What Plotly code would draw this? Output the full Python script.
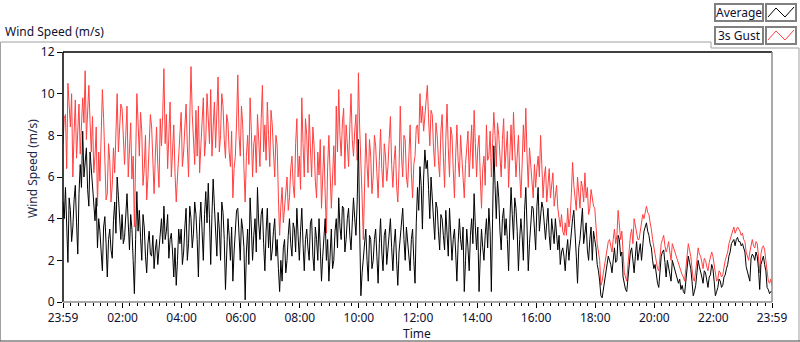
import pandas as pd
import plotly.graph_objects as go

# ---- data (2.5-minute samples, 23:59 -> 23:59), one row per hour ----
start_time = "2024-01-01 23:59"
sample_step = "150s"

gust = [
    7.6, 8.8, 9.0, 6.4, 10.5, 9.2, 8.4, 10.0, 6.0, 8.1, 9.7, 6.9, 8.0, 9.5, 7.1, 8.2, 9.8, 8.6, 11.1, 7.8, 9.6, 10.4, 8.6, 7.2,
    8.9, 6.2, 7.0, 8.4, 4.6, 7.2, 5.8, 8.0, 10.2, 8.8, 6.8, 4.9, 5.2, 7.6, 6.8, 4.8, 5.6, 7.4, 6.2, 8.6, 10.0, 7.2, 8.1, 9.5,
    9.3, 7.8, 6.6, 8.0, 9.4, 6.0, 7.4, 8.6, 5.9, 7.0, 3.6, 6.5, 10.0, 8.6, 7.0, 9.1, 8.2, 5.6, 6.4, 8.0, 4.9, 6.0, 7.2, 9.0,
    8.4, 6.8, 5.2, 7.0, 8.4, 6.6, 5.5, 8.8, 7.5, 9.0, 11.2, 7.6, 9.0, 6.4, 8.6, 9.6, 6.0, 7.4, 8.5, 6.2, 4.8, 6.0, 7.1, 8.3,
    9.1, 6.5, 7.2, 8.4, 9.5, 7.5, 6.0, 8.8, 11.3, 9.0, 8.0, 6.6, 9.2, 7.0, 9.4, 6.2, 7.5, 8.7, 9.8, 7.0, 7.8, 10.0, 9.0, 7.6,
    10.2, 7.0, 8.4, 9.6, 7.4, 9.0, 10.8, 7.2, 8.0, 10.0, 9.4, 7.8, 6.9, 9.0, 8.6, 7.2, 6.5, 8.2, 5.0, 6.4, 7.0, 8.6, 10.9, 8.0,
    7.0, 9.4, 8.5, 6.4, 4.8, 7.0, 8.0, 6.6, 9.8, 8.2, 6.0, 7.6, 8.0, 6.2, 9.0, 7.8, 6.5, 8.8, 10.4, 7.2, 8.5, 6.8, 9.6, 8.0,
    6.5, 9.2, 8.5, 7.2, 6.0, 8.0, 7.5, 5.0, 3.2, 4.6, 5.5, 3.8, 4.5, 5.6, 6.0, 4.4, 5.0, 6.4, 7.0, 5.6, 5.0, 7.6, 8.8, 6.0,
    7.0, 5.4, 9.8, 7.6, 6.0, 8.8, 8.0, 6.2, 9.0, 7.4, 6.0, 8.4, 7.5, 5.8, 5.0, 7.2, 6.1, 7.8, 4.5, 6.0, 7.5, 5.2, 3.3, 6.5,
    8.0, 6.2, 4.5, 6.0, 7.5, 5.6, 9.4, 7.2, 10.2, 8.0, 7.0, 8.6, 9.3, 6.4, 8.5, 7.6, 6.5, 8.4, 10.0, 7.8, 7.0, 8.2, 9.0, 6.8,
    11.0, 8.4, 7.0, 5.0, 3.0, 6.0, 8.1, 6.6, 5.5, 7.8, 7.0, 5.2, 6.0, 8.0, 7.5, 6.2, 5.0, 6.8, 8.3, 6.4, 5.5, 7.6, 7.0, 5.8,
    6.5, 7.8, 8.9, 6.6, 5.5, 6.8, 7.5, 5.6, 4.8, 6.4, 9.4, 7.0, 6.0, 8.0, 7.8, 6.0, 5.5, 7.0, 8.5, 6.2, 5.0, 6.6, 7.0, 8.4,
    8.5, 7.6, 10.0, 8.6, 9.4, 8.2, 9.0, 9.8, 10.4, 8.8, 7.5, 9.2, 9.0, 7.4, 6.5, 8.6, 8.0, 6.8, 6.0, 8.2, 9.0, 7.0, 5.5, 7.8,
    9.5, 7.4, 6.0, 8.4, 8.0, 6.4, 5.0, 7.0, 8.5, 6.8, 6.0, 8.0, 7.0, 5.8, 5.0, 6.6, 7.5, 8.2, 6.0, 7.0, 8.5, 6.4, 9.2, 7.6,
    6.0, 7.4, 8.0, 6.0, 4.5, 6.4, 7.0, 5.6, 8.5, 6.8, 7.0, 8.2, 6.0, 7.6, 9.1, 8.0, 6.5, 8.6, 8.0, 7.0, 6.0, 7.8, 8.8, 6.4,
    7.5, 8.2, 5.5, 7.0, 8.5, 6.8, 9.1, 7.4, 6.0, 7.0, 8.0, 6.2, 5.0, 6.6, 8.5, 7.2, 9.3, 7.0, 5.5, 7.4, 6.5, 5.8, 5.0, 6.6,
    5.5, 6.4, 7.0, 6.0, 8.0, 6.6, 5.0, 6.0, 6.5, 4.8, 5.6, 6.4, 5.0, 5.6, 6.2, 4.6, 5.0, 5.6, 4.5, 4.0, 3.6, 4.2, 3.4, 3.2,
    3.8, 3.2, 4.5, 3.6, 4.0, 5.2, 6.7, 5.6, 5.0, 4.4, 6.0, 5.0, 4.5, 5.8, 5.5, 4.8, 6.2, 5.0, 5.5, 4.2, 4.5, 5.4, 5.0, 4.6,
    4.5, 3.6, 2.8, 2.4, 2.0, 0.8, 1.0, 1.4, 1.8, 2.2, 2.6, 2.9, 3.0, 2.6, 2.4, 3.0, 3.5, 2.8, 3.2, 4.4, 3.8, 3.0, 3.4, 2.0,
    1.4, 1.2, 1.0, 1.8, 2.8, 3.2, 3.5, 2.8, 4.0, 3.6, 3.4, 3.0, 3.0, 3.4, 3.8, 4.2, 4.0, 4.4, 4.6, 4.3, 4.2, 3.8, 3.5, 3.0,
    2.6, 2.3, 2.0, 1.6, 1.5, 2.2, 2.8, 3.0, 3.2, 2.7, 2.4, 2.6, 2.9, 2.4, 2.0, 2.8, 2.6, 2.4, 2.2, 2.0, 1.8, 1.7, 1.5, 1.3,
    1.2, 1.0, 1.6, 2.2, 2.8, 2.5, 2.2, 1.6, 1.1, 1.0, 1.4, 2.0, 2.6, 2.3, 2.2, 1.8, 1.6, 2.1, 2.0, 1.7, 1.5, 1.9, 2.1, 2.4,
    2.2, 1.8, 1.4, 1.0, 1.1, 1.5, 1.4, 1.2, 1.3, 1.7, 2.0, 2.2, 2.4, 2.8, 3.0, 3.3, 3.5, 3.6, 3.3, 3.5, 3.6, 3.5, 3.4, 3.2,
    3.3, 3.0, 2.9, 2.4, 2.2, 2.0, 2.4, 2.8, 3.0, 2.7, 2.6, 2.9, 2.8, 2.2, 1.4, 2.3, 2.6, 2.7, 2.5, 2.0, 1.5, 1.0, 0.9, 1.1,
    0.8,
]

average = [
    4.8, 4.0, 5.5, 3.2, 1.9, 5.0, 4.4, 2.9, 3.6, 4.9, 5.6, 3.8, 2.3, 5.2, 6.6, 5.5, 8.2, 6.0, 6.9, 7.4, 5.4, 4.6, 7.2, 6.3,
    5.4, 4.4, 3.9, 5.0, 2.6, 4.0, 3.4, 2.4, 1.5, 3.6, 4.1, 2.8, 1.2, 3.0, 3.5, 2.5, 2.1, 3.9, 4.8, 3.3, 6.0, 5.1, 4.0, 3.0,
    4.2, 2.8, 3.1, 4.4, 5.2, 3.8, 2.5, 4.2, 3.5, 2.0, 0.4, 3.0, 5.3, 3.4, 4.4, 3.1, 2.0, 4.2, 3.6, 2.2, 1.4, 2.8, 3.4, 2.3,
    2.2, 3.2, 1.6, 2.5, 3.0, 1.8, 2.6, 3.4, 4.0, 2.8, 4.6, 3.0, 3.4, 4.2, 2.1, 3.0, 3.3, 2.4, 1.2, 2.6, 0.8, 2.0, 3.5, 2.8,
    3.5, 1.8, 2.4, 3.6, 4.5, 2.0, 2.8, 4.6, 4.0, 2.6, 3.3, 4.8, 4.2, 3.0, 1.2, 3.8, 4.8, 3.4, 2.0, 4.2, 5.3, 3.8, 5.7, 4.0,
    1.8, 4.2, 5.9, 4.6, 3.0, 2.2, 4.3, 3.5, 2.0, 4.8, 4.3, 3.0, 0.6, 2.6, 4.0, 3.2, 2.0, 3.6, 1.0, 2.4, 3.3, 4.4, 4.5, 3.4,
    2.0, 4.0, 3.5, 2.6, 0.1, 2.4, 3.5, 1.8, 5.0, 3.6, 2.0, 3.2, 4.0, 2.4, 5.5, 3.8, 3.0, 4.2, 4.5, 2.8, 1.5, 3.4, 4.5, 2.6,
    3.8, 2.0, 2.5, 3.4, 4.0, 2.2, 3.0, 1.6, 0.5, 2.0, 1.0, 2.6, 3.0, 1.4, 2.0, 3.2, 4.0, 2.8, 2.2, 3.8, 3.5, 2.4, 4.5, 3.2,
    2.0, 3.4, 4.5, 2.8, 1.5, 3.0, 3.5, 2.6, 2.0, 3.8, 4.0, 2.2, 1.5, 3.6, 3.0, 2.0, 4.0, 2.6, 1.0, 2.2, 3.0, 4.0, 2.0, 3.0,
    1.0, 2.6, 3.5, 1.6, 2.0, 3.4, 4.0, 2.6, 5.0, 3.6, 3.0, 4.6, 4.5, 2.4, 3.0, 4.0, 4.5, 3.2, 2.5, 3.8, 5.0, 4.0, 3.2, 4.8,
    7.8, 3.6, 0.3, 1.4, 2.0, 2.8, 3.5, 2.0, 1.0, 3.2, 3.0, 1.6, 2.0, 3.0, 3.5, 2.2, 0.9, 2.8, 4.0, 2.4, 1.5, 3.2, 3.5, 1.8,
    2.5, 3.4, 4.0, 2.6, 1.5, 2.8, 3.5, 2.0, 0.8, 2.4, 3.0, 3.8, 4.5, 3.0, 2.0, 3.6, 3.0, 2.2, 1.5, 3.0, 3.5, 2.0, 0.9, 3.8,
    5.5, 4.4, 6.5, 5.6, 3.5, 6.0, 7.3, 6.4, 6.8, 5.4, 4.0, 6.0, 5.0, 3.6, 3.0, 4.8, 4.5, 3.4, 2.5, 4.2, 4.0, 3.2, 2.5, 4.4,
    3.0, 2.2, 4.5, 3.4, 2.0, 3.0, 3.5, 2.4, 1.0, 2.8, 4.0, 3.0, 2.5, 3.6, 0.5, 2.0, 3.5, 2.6, 1.5, 3.2, 4.0, 2.8, 5.2, 3.6,
    2.5, 3.6, 0.5, 2.2, 3.5, 2.6, 2.0, 3.2, 4.0, 2.6, 4.5, 3.4, 0.5, 4.0, 7.5, 5.6, 4.0, 5.8, 5.0, 3.4, 2.5, 4.0, 4.5, 3.2,
    4.0, 3.0, 1.5, 3.8, 5.5, 4.2, 3.0, 5.0, 4.5, 3.4, 1.5, 3.0, 4.0, 3.2, 2.0, 4.4, 5.5, 3.6, 1.5, 2.8, 3.5, 4.6, 4.5, 3.2,
    2.5, 4.6, 5.5, 3.4, 4.0, 4.8, 4.5, 3.6, 3.0, 3.8, 4.5, 3.2, 2.5, 4.0, 3.5, 2.8, 4.0, 3.0, 2.5, 3.2, 1.8, 2.4, 2.6, 2.2,
    1.5, 2.4, 3.0, 2.0, 2.8, 3.6, 4.0, 4.4, 3.5, 2.2, 0.9, 2.6, 3.0, 3.8, 4.5, 2.8, 3.5, 3.8, 2.5, 2.0, 3.0, 3.6, 2.0, 3.4,
    3.0, 2.6, 1.8, 1.5, 1.0, 0.3, 0.2, 0.6, 0.8, 1.2, 1.6, 2.2, 2.0, 1.8, 1.4, 2.2, 2.6, 1.9, 2.0, 3.2, 3.0, 2.2, 2.4, 1.2,
    0.9, 0.6, 0.5, 1.2, 2.0, 2.4, 2.6, 1.8, 1.4, 2.2, 2.9, 2.0, 2.4, 2.8, 2.0, 3.0, 3.4, 3.6, 3.8, 3.4, 3.2, 2.8, 2.6, 2.0,
    1.6, 1.8, 1.2, 0.9, 0.7, 1.6, 2.2, 2.4, 2.5, 1.9, 1.2, 2.0, 1.6, 1.3, 1.0, 2.0, 1.8, 1.5, 1.4, 1.2, 0.9, 1.1, 0.6, 0.8,
    0.5, 0.4, 1.0, 1.5, 2.2, 1.9, 1.6, 1.0, 0.3, 0.5, 0.8, 1.4, 2.0, 1.7, 1.5, 1.2, 0.9, 1.5, 1.4, 1.0, 0.7, 1.2, 1.3, 1.8,
    1.6, 1.0, 0.3, 0.5, 0.7, 1.1, 1.0, 0.7, 0.8, 1.2, 1.3, 1.6, 1.8, 2.2, 2.4, 2.8, 2.9, 3.0, 2.7, 3.0, 3.1, 2.9, 2.9, 2.7,
    2.8, 2.6, 2.4, 1.7, 1.5, 1.3, 1.0, 2.1, 2.3, 2.2, 2.0, 2.4, 2.2, 1.6, 0.6, 1.8, 2.0, 2.2, 1.8, 1.5, 0.7, 0.6, 0.4, 0.5,
    0.5,
]

tick_times = ["2024-01-01 23:59", "2024-01-02 02:00", "2024-01-02 04:00",
              "2024-01-02 06:00", "2024-01-02 08:00", "2024-01-02 10:00",
              "2024-01-02 12:00", "2024-01-02 14:00", "2024-01-02 16:00",
              "2024-01-02 18:00", "2024-01-02 20:00", "2024-01-02 22:00",
              "2024-01-02 23:59"]
tick_labels = ["23:59", "02:00", "04:00", "06:00", "08:00", "10:00", "12:00",
               "14:00", "16:00", "18:00", "20:00", "22:00", "23:59"]
y_ticks = [0, 2, 4, 6, 8, 10, 12]

times = pd.date_range(start_time, periods=len(gust), freq=sample_step)

# ---- layout geometry (pixels) ----
W, H = 800, 342
L, R, T, B = 63, 28, 52, 40
PW = W - L - R
PH = H - T - B

def px(x):
    return (x - L) / PW

def py(y):
    return (H - B - y) / PH

TXT = "#101030"
FONT = "Noto Sans"

fig = go.Figure()
fig.add_trace(go.Scatter(x=times, y=gust, mode="lines", name="3s Gust",
                         line=dict(color="#ff4040", width=1), hoverinfo="skip"))
fig.add_trace(go.Scatter(x=times, y=average, mode="lines", name="Average",
                         line=dict(color="#000000", width=1), hoverinfo="skip"))

shapes = []
# outer panel frame
shapes.append(dict(type="path", xref="paper", yref="paper",
                   path=f"M {px(0.5)},{py(341)} L {px(0.5)},{py(42)} L {px(711)},{py(42)} "
                        f"L {px(711)},{py(48)} L {px(799)},{py(48)} L {px(799)},{py(341)}",
                   line=dict(color="#a0a0a0", width=1)))
shapes.append(dict(type="line", xref="paper", yref="paper",
                   x0=px(0), x1=px(800), y0=py(341), y1=py(341),
                   line=dict(color="#404040", width=1)))
# plot frame
shapes.append(dict(type="line", xref="paper", yref="paper", x0=0, x1=1, y0=1, y1=1,
                   line=dict(color="#000000", width=1.5), layer="above"))
shapes.append(dict(type="line", xref="paper", yref="paper", x0=0, x1=0, y0=0, y1=1,
                   line=dict(color="#000000", width=1.5), layer="above"))
shapes.append(dict(type="line", xref="paper", yref="paper", x0=0, x1=1, y0=0, y1=0,
                   line=dict(color="#8c8c8c", width=1.5), layer="above"))
shapes.append(dict(type="line", xref="paper", yref="paper", x0=1, x1=1, y0=0, y1=1,
                   line=dict(color="#8c8c8c", width=1.5), layer="above"))

# legend boxes
legend_items = [("Average", "#000000", 4), ("3s Gust", "#ff4040", 27)]
annotations = []
for label, col, top in legend_items:
    shapes.append(dict(type="rect", xref="paper", yref="paper",
                       x0=px(715), x1=px(763), y0=py(top), y1=py(top + 17),
                       line=dict(color="#808080", width=2), fillcolor="white"))
    shapes.append(dict(type="rect", xref="paper", yref="paper",
                       x0=px(766), x1=px(796), y0=py(top), y1=py(top + 17),
                       line=dict(color="#808080", width=2), fillcolor="white"))
    shapes.append(dict(type="path", xref="paper", yref="paper",
                       path=f"M {px(768)},{py(top + 13)} L {px(776)},{py(top + 4)} "
                            f"L {px(785)},{py(top + 13)} L {px(794)},{py(top + 3)}",
                       line=dict(color=col, width=1)))
    annotations.append(dict(text=label, xref="paper", yref="paper",
                            x=px(739), y=py(top + 8.5), xanchor="center", yanchor="middle",
                            showarrow=False, font=dict(family=FONT, size=12, color=TXT)))

annotations.append(dict(text="Wind Speed (m/s)", xref="paper", yref="paper",
                        x=px(3), y=py(32), xanchor="left", yanchor="middle",
                        showarrow=False, font=dict(family=FONT, size=12, color=TXT)))
annotations.append(dict(text="Wind Speed (m/s)", xref="paper", yref="paper",
                        x=px(32), y=py(169), xanchor="center", yanchor="middle",
                        textangle=-90, showarrow=False,
                        font=dict(family=FONT, size=12, color="#1c2a48")))
annotations.append(dict(text="Time", xref="paper", yref="paper",
                        x=px(417), y=py(333), xanchor="center", yanchor="middle",
                        showarrow=False, font=dict(family=FONT, size=12, color=TXT)))

fig.update_layout(
    width=W, height=H,
    margin=dict(l=L, r=R, t=T, b=B, autoexpand=False),
    paper_bgcolor="white", plot_bgcolor="white",
    showlegend=False,
    font=dict(family=FONT, size=12, color=TXT),
    shapes=shapes, annotations=annotations,
    xaxis=dict(type="date", range=[tick_times[0], tick_times[-1]],
               tickvals=tick_times, ticktext=tick_labels, automargin=False,
               ticks="outside", ticklen=5, tickcolor="#000000", tickwidth=1,
               showgrid=False, zeroline=False, showline=False,
               minor=dict(dtick=15 * 60 * 1000, tick0="2024-01-02 00:00",
                          ticks="outside", ticklen=3, tickcolor="#000000", showgrid=False),
               tickfont=dict(family=FONT, size=12, color=TXT)),
    yaxis=dict(range=[0, 12], tickvals=y_ticks, automargin=False,
               ticks="outside", ticklen=5, tickcolor="#000000", tickwidth=1,
               showgrid=False, zeroline=False, showline=False,
               tickfont=dict(family=FONT, size=12, color=TXT)),
)

fig.write_html("out.html", config={"displayModeBar": False},
               post_script="document.body.style.margin='0';document.body.style.overflow='hidden';")
